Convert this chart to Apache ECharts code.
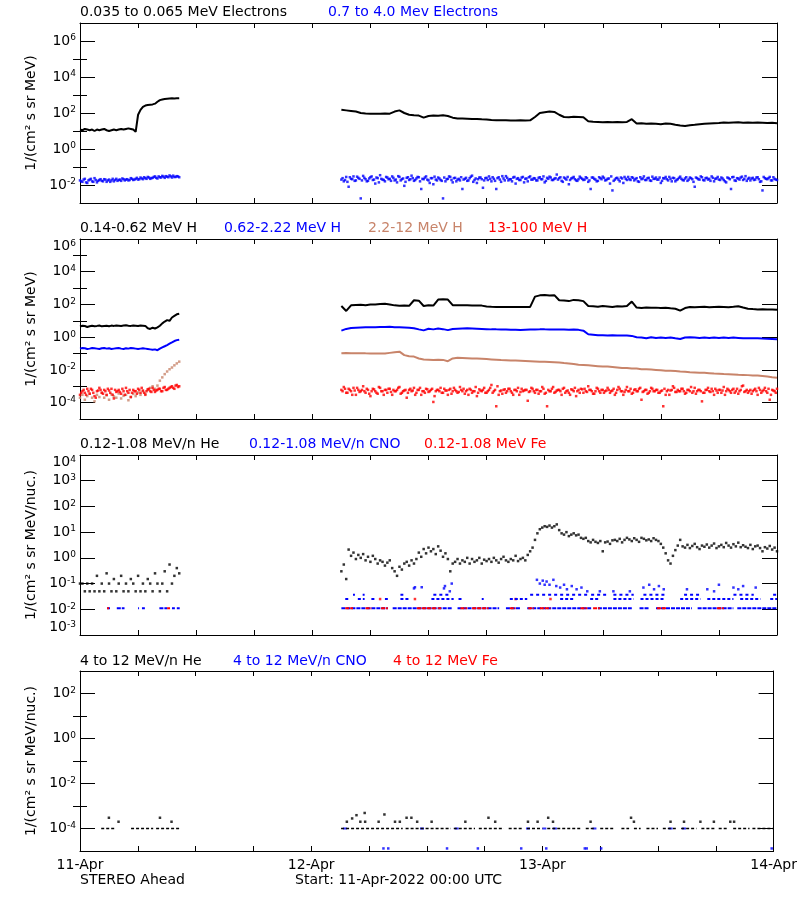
<!DOCTYPE html>
<html><head><meta charset="utf-8">
<script src="https://cdn.jsdelivr.net/npm/echarts@6/dist/echarts.min.js"></script>
<style>html,body{margin:0;padding:0;background:#fff}#c{width:800px;height:900px}</style>
</head><body><div id="c"></div>
<script>
// Hours since 11-Apr-2022 00:00 UTC. Segment 1 sampled every 0.25 h from 0 h;
// segment 2 sampled every 0.25 h (fine) or 0.5 h (coarse) from 27 h.
// "b" arrays are the samples that fall half-way between the fine samples.
const seg1Start = 0, seg2Start = 27, fineStep = 0.25, coarseStep = 0.5, halfStep = 0.125;
const dayLabels = ['11-Apr', '12-Apr', '13-Apr', '14-Apr'];

// ---- Panel 1: electrons
const elecLoSeg1 = [12,11,13,12,11,12,10,12,11,12,13,11,10,11,12,11,12,13,12,13,14,13,12,
  9,80,150,220,260,280,290,300,330,420,520,560,600,620,640,650,640,650,660];
const elecLoSeg2 = [150,140,130,120,100,95,92,90,92,95,
  92,120,140,100,80,75,72,55,68,72,
  70,75,68,55,50,49,48,47,47,45,
  44,41,40,39,40,38,38,39,38,39,
  60,100,110,120,115,80,60,58,62,60,
  58,35,33,32,31,32,31,32,31,32,
  45,26,27,25,26,25,24,26,25,22,
  20,19,21,22,24,25,26,27,28,30,
  29,30,31,29,30,29,30,29,28,29,
  27];
const elecHiSeg1 = [0.018,0.015,0.022,0.013,0.02,0.016,0.024,0.014,0.019,0.017,
  0.021,0.015,0.02,0.018,0.016,0.022,0.019,0.017,0.021,0.02,
  0.018,0.024,0.019,0.022,0.02,0.026,0.021,0.024,0.028,0.022,
  0.025,0.03,0.023,0.027,0.032,0.025,0.029,0.034,0.026,0.028,
  0.031,0.027];
const elecHiSeg1b = [0.016,0.02,0.014,0.018,0.022,0.015,0.019,0.017,0.021,0.016,
  0.02,0.018,0.015,0.022,0.019,0.017,0.02,0.023,0.018,0.021,
  0.019,0.022,0.02,0.025,0.021,0.023,0.027,0.022,0.026,0.024,
  0.028,0.025,0.03,0.026,0.029,0.031,0.027,0.03,0.033,0.028,
  0.03];
const elecHiSeg2 = [0.02,0.016,0.028,0.008,0.022,0.03,0.018,0.025,0.0018,0.032,
  0.021,0.017,0.027,0.019,0.012,0.024,0.035,0.02,0.016,0.026,
  0.022,0.03,0.018,0.014,0.028,0.021,0.009,0.025,0.019,0.033,
  0.017,0.023,0.027,0.006,0.021,0.03,0.018,0.024,0.011,0.02,
  0.026,0.019,0.0018,0.016,0.022,0.028,0.014,0.025,0.02,0.018,
  0.006,0.022,0.017,0.024,0.033,0.019,0.013,0.026,0.021,0.018,
  0.025,0.03,0.016,0.022,0.006,0.027,0.015,0.023,0.031,0.018,
  0.021,0.026,0.012,0.024,0.019,0.028,0.022,0.016,0.03,0.02,
  0.023,0.018,0.027,0.021,0.014,0.025,0.029,0.019,0.022,0.038,
  0.024,0.017,0.026,0.02,0.011,0.023,0.028,0.018,0.021,0.025,
  0.019,0.027,0.015,0.006,0.026,0.02,0.017,0.024,0.029,0.018,
  0.022,0.012,0.005,0.02,0.025,0.016,0.023,0.028,0.019,0.021,
  0.027,0.018,0.024,0.015,0.021,0.03,0.019,0.025,0.017,0.022,
  0.026,0.02,0.013,0.024,0.028,0.018,0.022,0.025,0.016,0.021,
  0.029,0.019,0.023,0.017,0.026,0.021,0.008,0.024,0.02,0.027,
  0.018,0.025,0.022,0.03,0.016,0.023,0.02,0.026,0.019,0.014,
  0.024,0.006,0.028,0.017,0.023,0.026,0.019,0.031,0.022,0.018,
  0.025,0.02,0.027,0.015,0.005,0.024,0.021,0.028,0.018,0.022,
  0.019];
const elecHiSeg2b = [0.024,0.019,0.015,0.027,0.021,0.017,0.029,0.022,0.018,0.025,
  0.016,0.023,0.03,0.02,0.026,0.014,0.022,0.019,0.028,0.021,
  0.017,0.025,0.02,0.031,0.018,0.023,0.015,0.027,0.021,0.024,
  0.019,0.028,0.016,0.022,0.026,0.02,0.013,0.024,0.029,0.018,
  0.023,0.017,0.026,0.021,0.03,0.019,0.024,0.016,0.022,0.027,
  0.02,0.025,0.018,0.029,0.015,0.023,0.021,0.026,0.007,0.024,
  0.019,0.022,0.027,0.017,0.024,0.02,0.031,0.018,0.025,0.021,
  0.016,0.028,0.022,0.019,0.026,0.014,0.023,0.027,0.02,0.024,
  0.018,0.025,0.021,0.03,0.017,0.022,0.026,0.019,0.024,0.02,
  0.027,0.015,0.023,0.028,0.019,0.025,0.021,0.017,0.029,0.022,
  0.02,0.024,0.018,0.026,0.022,0.016,0.027,0.021,0.025,0.019,
  0.023,0.03,0.017,0.024,0.02,0.026,0.013,0.022,0.028,0.019,
  0.025,0.021,0.016,0.027,0.023,0.019,0.024,0.018,0.029,0.022,
  0.02,0.026,0.017,0.023,0.021,0.028,0.016,0.024,0.019,0.025,
  0.022,0.018,0.027,0.02,0.024,0.015,0.026,0.021,0.03,0.019,
  0.024,0.02,0.017,0.025,0.022,0.028,0.019,0.023,0.016,0.026,
  0.021,0.027,0.018,0.024,0.02,0.029,0.022,0.017,0.025,0.023,
  0.019,0.026,0.021,0.016,0.028,0.022,0.024,0.018,0.027,0.02];

// ---- Panel 2: protons
const hLoSeg1 = [4.5,5,4.8,4.2,4.6,5,4.7,4.9,5.2,4.6,4.8,5,4.7,5.1,4.9,5.2,5,4.8,5.1,5.3,5,4.9,5.2,5,4.8,5.1,5,4.9,
  3.5,3.2,3.8,3.4,4,5,7,9,11,10,16,20,25,27];
const hLoSeg2 = [80,40,88,92,95,90,98,100,105,110,
  100,88,82,85,82,180,170,80,90,85,
  200,210,200,90,90,88,88,87,86,85,
  75,72,71,70,70,70,71,70,70,71,
  300,360,380,350,370,180,175,160,190,180,
  160,80,78,72,80,75,70,78,75,80,
  150,65,60,66,62,64,60,63,58,55,
  42,60,70,68,70,72,68,70,72,70,
  68,72,78,65,55,52,50,51,49,50,
  48];
const hMidSeg1 = [0.2,0.22,0.21,0.19,0.2,0.22,0.21,0.2,0.19,0.21,0.22,0.2,0.21,0.19,0.2,0.21,0.22,0.2,0.19,0.21,
  0.2,0.22,0.21,0.2,0.19,0.2,0.21,0.2,0.19,0.18,0.17,0.18,
  0.16,0.2,0.24,0.28,0.33,0.4,0.48,0.58,0.66,0.7];
const hMidSeg2 = [2.5,3.2,3.6,3.8,3.9,4.0,4.0,4.1,4.2,4.2,
  4.3,4.1,4.0,3.9,3.8,3.5,3.0,2.6,3.3,3.0,
  3.4,3.1,2.7,3.2,3.3,3.4,3.5,3.4,3.3,3.2,
  3.1,3.0,3.0,2.9,2.9,2.8,2.8,2.7,2.8,2.9,
  2.9,3.0,3.0,2.9,2.9,2.9,2.9,2.8,2.9,2.8,
  2.5,1.5,1.4,1.3,1.3,1.25,1.3,1.25,1.25,1.25,
  1.2,1.0,0.95,0.85,1.0,0.9,0.95,0.9,0.95,0.85,
  0.78,0.95,1.0,0.95,0.9,0.95,0.9,0.95,0.9,0.95,
  0.9,0.95,0.9,0.85,0.85,0.85,0.85,0.82,0.8,0.78,
  0.75];
const hHiSeg1 = [2e-4,3e-4,1.5e-4,2.5e-4,3.5e-4,2e-4,1.2e-4,3e-4,2.2e-4,4e-4,2e-4,2.8e-4,1.5e-4,3.2e-4,2.4e-4,2e-4,
  3.6e-4,1.8e-4,2.6e-4,3e-4,1.4e-4,2.2e-4,3.4e-4,2.5e-4,4.2e-4,3e-4,5e-4,3.5e-4,6e-4,8e-4,1e-3,7e-4,1.1e-3,
  2.2e-3,3.5e-3,5.5e-3,8e-3,0.011,0.014,0.019,0.025,0.032];
const hHiSeg2 = [0.105,0.108,0.106,0.104,0.105,0.103,0.102,0.1,0.1,0.1,
  0.11,0.12,0.13,0.08,0.068,0.065,0.05,0.043,0.042,0.041,
  0.042,0.041,0.034,0.05,0.055,0.054,0.052,0.05,0.05,0.048,
  0.046,0.044,0.042,0.04,0.039,0.038,0.037,0.036,0.035,0.034,
  0.033,0.032,0.031,0.03,0.029,0.028,0.026,0.025,0.023,0.021,
  0.02,0.019,0.018,0.017,0.016,0.016,0.015,0.014,0.013,0.013,
  0.012,0.012,0.011,0.011,0.0105,0.01,0.0095,0.009,0.0088,0.0085,
  0.008,0.0076,0.0072,0.007,0.0068,0.0066,0.0063,0.006,0.0058,0.0056,
  0.0055,0.0053,0.005,0.0049,0.0048,0.0046,0.0045,0.0043,0.004,0.0036,
  0.0033];
const hVhiSeg1 = [3e-4,5e-4,4e-4,7e-4,3.5e-4,6e-4,2.5e-4,5e-4,8e-4,4e-4,
  6e-4,3e-4,5.5e-4,7e-4,1.8e-4,4.5e-4,6e-4,3.5e-4,5e-4,8e-4,
  4e-4,2.2e-4,6e-4,5e-4,7e-4,4e-4,5.5e-4,3e-4,6.5e-4,5e-4,
  8e-4,4.5e-4,6e-4,7e-4,5e-4,9e-4,6e-4,8e-4,1e-3,7e-4,
  1.2e-3,1e-3];
const hVhiSeg1b = [4e-4,6e-4,3e-4,5e-4,7e-4,4e-4,2e-4,5.5e-4,6e-4,3.5e-4,
  5e-4,7e-4,4e-4,3e-4,6e-4,5e-4,4.5e-4,7e-4,3e-4,5e-4,
  6e-4,4e-4,5e-4,3.5e-4,6e-4,8e-4,4e-4,5e-4,7e-4,4.5e-4,
  6e-4,5.5e-4,7e-4,5e-4,8e-4,6e-4,7e-4,9e-4,8e-4,1.1e-3,
  9e-4];
const hVhiSeg2 = [6e-4,9e-4,4e-4,7e-4,5e-4,8e-4,3e-4,6e-4,5e-4,1e-3,
  4e-4,6e-4,2.5e-4,7e-4,5e-4,3.5e-4,8e-4,5e-4,6e-4,4e-4,
  7e-4,3e-4,5e-4,6e-4,9e-4,4e-4,5.5e-4,2e-4,6e-4,5e-4,
  8e-4,4e-4,6e-4,3e-4,5e-4,7e-4,4.5e-4,6e-4,1.1e-4,5e-4,
  6e-4,8e-4,4e-4,5.5e-4,3e-4,7e-4,5e-4,6e-4,4e-4,9e-4,
  5e-4,3.5e-4,6e-4,7e-4,4e-4,5e-4,2.5e-4,6.5e-4,5e-4,8e-4,
  4e-4,6e-4,1.2e-3,5e-4,6e-5,3e-4,5.5e-4,6e-4,4e-4,7e-4,
  5e-4,3e-4,6e-4,8e-4,4.5e-4,5e-4,6e-4,1.3e-4,5e-4,7e-4,
  4e-4,6e-4,5e-4,9e-4,3.5e-4,6e-5,5e-4,7e-4,4e-4,5.5e-4,
  6e-4,3e-4,8e-4,5e-4,4e-4,6.5e-4,5e-4,2.5e-4,6e-4,7e-4,
  4e-4,5e-4,1e-3,6e-4,3.5e-4,5e-4,7e-4,4e-4,6e-4,5e-4,
  8e-4,4e-4,5.5e-4,3e-4,6e-4,7e-4,5e-4,4.5e-4,9e-4,5e-4,
  3.5e-4,6e-4,5e-4,7e-4,1.5e-4,5e-4,6e-4,4e-4,8e-4,5e-4,
  6e-4,4e-4,5e-4,6e-5,3e-4,6e-4,5.5e-4,1e-3,4.5e-4,6e-4,
  5e-4,7e-4,3.5e-4,6e-4,5e-4,4e-4,8e-4,5e-4,6e-4,1.2e-4,
  4e-4,6e-4,5e-4,7e-4,3e-4,5.5e-4,6e-4,4e-4,9e-4,5e-4,
  6e-4,4e-4,7e-4,5e-4,3.5e-4,6e-4,1.1e-3,5e-4,4e-4,6e-4,
  5e-4,7e-4,3e-4,6e-4,5e-4,8e-4,4e-4,1.5e-4,6e-4,5e-4,
  7e-4];
const hVhiSeg2b = [5e-4,7e-4,4e-4,6e-4,3e-4,5.5e-4,8e-4,4.5e-4,6e-4,5e-4,
  7e-4,3.5e-4,5e-4,6.5e-4,4e-4,9e-4,5e-4,3e-4,6e-4,7e-4,
  4.5e-4,6e-4,5e-4,8e-4,3.5e-4,5e-4,6e-4,4e-4,7e-4,5.5e-4,
  3e-4,6e-4,8e-4,5e-4,4e-4,6.5e-4,5e-4,7e-4,2.5e-4,6e-4,
  5e-4,4e-4,7e-4,5.5e-4,6e-4,3.5e-4,8e-4,5e-4,4.5e-4,6e-4,
  7e-4,5e-4,3e-4,6e-4,5e-4,9e-4,4e-4,5.5e-4,6e-4,4e-4,
  5e-4,8e-4,4e-4,6e-4,1e-3,5e-4,3.5e-4,6.5e-4,5e-4,7e-4,
  4e-4,6e-4,5e-4,3e-4,7e-4,5.5e-4,6e-4,4.5e-4,8e-4,5e-4,
  6e-4,3.5e-4,5e-4,7e-4,4e-4,6e-4,5e-4,9e-4,4.5e-4,6e-4,
  5e-4,7e-4,4e-4,5.5e-4,3e-4,6e-4,8e-4,5e-4,4e-4,6.5e-4,
  7e-4,4.5e-4,6e-4,5e-4,3.5e-4,8e-4,5e-4,6e-4,4e-4,5.5e-4,
  6e-4,5e-4,7e-4,4e-4,9e-4,5e-4,3e-4,6e-4,5e-4,7e-4,
  4e-4,6.5e-4,5e-4,8e-4,4.5e-4,6e-4,3.5e-4,5e-4,7e-4,5e-4,
  6e-4,4e-4,5.5e-4,7e-4,5e-4,3e-4,6e-4,8e-4,4.5e-4,5e-4,
  7e-4,5e-4,4e-4,6e-4,9e-4,5e-4,3.5e-4,6e-4,5e-4,4e-4,
  6e-4,8e-4,4.5e-4,5e-4,7e-4,4e-4,6e-4,5.5e-4,3e-4,7e-4,
  5e-4,6e-4,4e-4,7e-4,5e-4,1e-3,4.5e-4,6e-4,5e-4,3.5e-4,
  6e-4,5e-4,8e-4,4e-4,6e-4,5e-4,7e-4,3e-4,5.5e-4,4e-4];

// ---- Panel 3: 0.12-1.08 MeV/n ions
const heLoSeg1 = [0.1,0.1,0.05,0.1,0.05,0.1,0.05,0.2,0.05,0.1,0.05,0.25,0.1,0.05,0.15,0.05,0.1,0.2,0.05,0.1,
  0.05,0.15,0.1,0.05,0.2,0.05,0.1,0.05,0.15,0.1,0.05,0.25,0.1,0.05,0.1,0.3,0.05,0.55,0.1,0.2,0.4,0.25];
const heLoSeg2 = [0.3,0.55,0.15,2.1,1.2,1.6,0.9,1.3,1.0,1.4,
  0.8,1.1,0.7,1.2,0.9,0.6,0.8,0.7,0.5,0.65,
  0.8,0.4,0.3,0.2,0.45,0.35,0.6,0.7,0.5,0.8,
  0.6,0.9,1.6,1.1,2.2,1.5,2.5,1.8,2.2,1.4,
  2.8,1.9,1.1,1.5,0.9,0.3,0.6,0.7,0.9,0.6,
  0.8,0.7,1.0,0.6,0.9,0.7,0.8,1.0,0.6,0.85,
  0.75,0.9,0.7,1.0,0.8,0.65,0.9,1.1,0.8,0.7,
  0.9,0.8,1.2,0.75,0.9,1.0,0.8,1.3,1.8,2.5,
  5,9,13,15,17,16,18,15,17,20,
  12,9,8,10,7,8,9,7.5,8,6,
  5.5,6,4.5,4,5,4.2,3.8,4.5,1.8,4,
  4.3,3.5,4.8,5,4.5,5.5,4,5,6,5.2,
  4.5,5.8,5,4.2,6,5.5,4.8,5.2,4.5,5.8,
  5,4.5,3.5,2.5,1.5,0.8,0.6,1.2,2,3,
  5,2.8,2.5,3.2,2.4,2.9,3.5,2.6,2.2,3,
  2.7,3.3,2.5,3,3.6,2.4,2.8,3.2,2.6,3.8,
  3,2.5,3.4,2.8,3.9,2.6,3.1,2.7,2.4,3.2,
  2.2,2.8,3,2.4,1.8,2.6,2.3,2.9,2.1,2.5,
  1.8];
// count-quantised CNO / Fe levels and the hour ranges [start, end] where they occur
const cnoLevels = [0.011, 0.025, 0.037];
const cnoLowRuns = [[2.8,3.1],[3.8,4.6],[6.0,6.1],[6.4,6.7],[8.2,9.0],[9.5,9.8],[10.0,10.3],
  [27.0,31.8],[32.3,38.5],[39.0,43.3],[44.0,45.5],[46.2,52.8],[53.5,57.0],[57.8,58.8],[59.5,63.2],[63.8,67.5],[67.9,72.0]];
const cnoMidRuns = [[27.4,27.9],[28.7,29.4],[30.1,30.5],[31.5,31.8],[33.1,34.1],[36.3,38.6],[39.1,39.6],[41.5,41.7],
  [44.4,46.2],[49.6,51.0],[52.7,53.7],[55.1,57.2],[57.9,60.3],[62.0,64.1],[64.8,67.5],[68.2,70.3],[71.3,72.0]];
const cnoHighRuns = [[28.2,28.4],[29.2,29.4],[33.1,33.4],[36.5,38.2],[46.5,52.4],[52.8,54.4],[55.1,57.2],[58.2,60.6],
  [62.4,64.1],[67.5,69.6],[71.6,72.0]];
const cnoPoints = [[34.5,0.065],[34.6,0.072],[35.3,0.072],[37.6,0.065],[37.7,0.08],[38.2,0.05],[38.4,0.1],
  [47.2,0.14],[47.5,0.1],[47.8,0.13],[48.0,0.09],[48.2,0.12],[48.5,0.09],[48.9,0.14],[49.2,0.08],[49.6,0.07],
  [50.0,0.09],[50.3,0.06],[50.8,0.08],[51.3,0.06],[51.8,0.07],[52.4,0.05],[53.7,0.05],[55.1,0.05],[56.8,0.05],
  [58.2,0.07],[58.8,0.09],[59.3,0.06],[59.8,0.08],[60.3,0.06],[62.7,0.06],[64.8,0.06],[65.5,0.05],[66.0,0.09],
  [67.5,0.07],[68.0,0.06],[68.5,0.08],[69.8,0.07]];
const feLowRuns = [[2.8,3.0],[9.0,9.3],[27.4,28.2],[29.5,30.1],[31.1,31.8],[34.8,36.9],[37.0,37.3],[39.3,40.0],
  [40.5,42.2],[44.4,45.0],[46.3,46.9],[47.5,48.6],[51.7,52.4],[53.0,53.7],[59.6,60.6],[65.8,66.5]];
const feMidHours = [31.0, 34.6, 45.0, 48.6];

// ---- Panel 4: 4-12 MeV/n ions
const he4Level = 1e-4;
const he4Runs = [[2.2,3.6],[5.3,7.6],[7.9,10.3],[27.1,33.5],[33.8,38.5],[38.8,41.0],[41.4,44.0],[44.5,46.0],[46.4,48.0],
  [48.5,52.0],[52.5,53.5],[54.0,55.5],[56.2,57.0],[57.5,58.2],[58.8,60.0],[60.5,62.0],[62.4,64.0],[64.5,66.0],
  [66.3,67.2],[67.8,69.5],[69.8,72.0]];
const he4Points = [[3.0,3e-4],[4.0,2e-4],[8.3,3e-4],[9.5,2e-4],[27.7,2e-4],[28.25,2.8e-4],[28.7,3.9e-4],[29.1,2e-4],
  [29.55,4.9e-4],[29.6,2e-4],[31.0,2e-4],[31.6,4.2e-4],[32.7,2e-4],[33.2,2e-4],[33.9,3e-4],[34.4,3e-4],[35.0,2e-4],
  [36.5,2e-4],[40.0,2e-4],[42.4,3e-4],[43.1,2e-4],[46.5,2e-4],[47.5,2e-4],[48.6,3e-4],[49.1,2e-4],[53.0,2e-4],
  [57.2,3e-4],[57.5,2e-4],[61.3,2e-4],[62.7,2e-4],[64.4,2e-4],[65.8,2e-4],[67.5,2e-4],[67.9,2e-4]];
const cno4RowHours = [27.5,35.5,39.1,46.5,48.2,49.3,53.4,61.3,62.7];
const cno4LowLevel = 1.3e-5;
const cno4LowHours = [31.5,32.0,38.1,41.3,45.8,48.4,52.4,52.6,54.1,71.8];

// ---- text
const titles = [
  ['0.035 to 0.065 MeV Electrons', 80, 13, '#000'], ['0.7 to 4.0 Mev Electrons', 328, 13, '#0000ff'],
  ['0.14-0.62 MeV H', 80, 229, '#000'], ['0.62-2.22 MeV H', 224, 229, '#0000ff'], ['2.2-12 MeV H', 368, 229, '#c8846a'], ['13-100 MeV H', 488, 229, '#ff0000'],
  ['0.12-1.08 MeV/n He', 80, 445, '#000'], ['0.12-1.08 MeV/n CNO', 249, 445, '#0000ff'], ['0.12-1.08 MeV Fe', 424, 445, '#ff0000'],
  ['4 to 12 MeV/n He', 80, 662, '#000'], ['4 to 12 MeV/n CNO', 233, 662, '#0000ff'], ['4 to 12 MeV Fe', 393, 662, '#ff0000'],
  ['STEREO Ahead', 80, 881, '#000'], ['Start: 11-Apr-2022 00:00 UTC', 295, 881, '#000']
];
const unitE = '1/(cm² s sr MeV)';
const unitN = '1/(cm² s sr MeV/nuc.)';

// ================= build =================
const F = 'DejaVu Sans';
const FS = 14;
const BLACK = '#000', BLUE = '#0000ff', BROWN = '#c8846a', RED = '#ff0000';
const L = v => Math.log10(v);
const pts = (start, step, arr) => arr.map((v, i) => [start + i * step, L(v)]);
const runs = (list, level) => { const o = []; list.forEach(([a, b]) => { o.push([a, L(level)], [b, L(level)], [b, null]); }); return o; };
const pairs = list => list.map(([h, v]) => [h, L(v)]);
const atLevel = (hours, level) => hours.map(h => [h, L(level)]);

const panels = [
  {top: 23, min: -3, max: 7, major: [-2,0,2,4,6], minor: [-1,1,3,5], name: unitE, vMin: 'middle', vMax: 'middle'},
  {top: 239, min: -5, max: 6, major: [-4,-2,0,2,4,6], minor: [-3,-1,1,3,5], name: unitE, vMin: 'middle', vMax: 'top'},
  {top: 455, min: -3, max: 4, major: [-3,-2,-1,0,1,2,3,4], minor: [], name: unitN, vMin: 'bottom', vMax: 'top'},
  {top: 671, min: -5, max: 3, major: [-4,-2,0,2], minor: [-3,-1,1], name: unitN, vMin: 'middle', vMax: 'middle'}
];
const grid = [], xAxis = [], yAxis = [], mainY = [];
const tickStyle = {color: '#000', width: 1};
panels.forEach((p, g) => {
  grid.push({left: 80, width: 697, top: p.top, height: 180, show: false});
  const xb = {gridIndex: g, type: 'value', min: 0, max: 72, interval: 6, splitLine: {show: false},
    axisLine: {show: true, onZero: false, lineStyle: tickStyle},
    axisTick: {show: true, inside: true, length: 5, lineStyle: tickStyle}};
  xAxis.push(Object.assign({}, xb, {position: 'bottom',
    axisLabel: {show: g === 3, margin: 7, color: '#000', fontFamily: F, fontSize: FS,
      formatter: v => (v % 24 === 0 ? dayLabels[v / 24] : '')}}));
  xAxis.push(Object.assign({}, xb, {position: 'top', axisLabel: {show: false}}));
  const yb = {gridIndex: g, type: 'value', min: p.min, max: p.max, splitLine: {show: false}};
  mainY.push(yAxis.length);
  yAxis.push(Object.assign({}, yb, {position: 'left',
    axisLine: {show: true, onZero: false, lineStyle: tickStyle},
    axisTick: {show: true, inside: true, length: 15, customValues: p.major, lineStyle: tickStyle},
    axisLabel: {show: true, customValues: p.major, margin: 4, showMinLabel: true, showMaxLabel: true,
      verticalAlignMinLabel: p.vMin, verticalAlignMaxLabel: p.vMax,
      formatter: v => '{b|10}{s|' + v + '}',
      rich: {b: {fontFamily: F, fontSize: FS, color: '#000', lineHeight: 15},
             s: {fontFamily: F, fontSize: 9, color: '#000', lineHeight: 9, verticalAlign: 'top'}}},
    name: p.name, nameLocation: 'middle', nameGap: 38,
    nameTextStyle: {fontFamily: F, fontSize: FS, color: '#000'}}));
  yAxis.push(Object.assign({}, yb, {position: 'right',
    axisLine: {show: true, onZero: false, lineStyle: tickStyle},
    axisTick: {show: true, inside: true, length: 15, customValues: p.major, lineStyle: tickStyle},
    axisLabel: {show: false}}));
  if (p.minor.length) {
    ['left', 'right'].forEach(pos => yAxis.push(Object.assign({}, yb, {position: pos,
      axisLine: {show: false},
      axisTick: {show: true, inside: true, length: 7, customValues: p.minor, lineStyle: tickStyle},
      axisLabel: {show: false}})));
  }
});

const series = [];
function line(g, data, color, width, type) {
  series.push({type: 'line', xAxisIndex: 2 * g, yAxisIndex: mainY[g], data, symbol: 'none', showSymbol: false,
    connectNulls: false, silent: true, lineStyle: {color, width, type: type || 'solid'}});
}
function scat(g, data, color, size) {
  series.push({type: 'scatter', xAxisIndex: 2 * g, yAxisIndex: mainY[g], data, symbol: 'rect',
    symbolSize: size || 2.5, silent: true, itemStyle: {color}});
}
// panel 1
line(0, pts(seg1Start, fineStep, elecLoSeg1), BLACK, 2);
line(0, pts(seg2Start, coarseStep, elecLoSeg2), BLACK, 2);
scat(0, pts(seg1Start, fineStep, elecHiSeg1), BLUE);
scat(0, pts(seg1Start + halfStep, fineStep, elecHiSeg1b), BLUE);
scat(0, pts(seg2Start, fineStep, elecHiSeg2), BLUE);
scat(0, pts(seg2Start + halfStep, fineStep, elecHiSeg2b), BLUE);
// panel 2
line(1, pts(seg1Start, fineStep, hLoSeg1), BLACK, 2);
line(1, pts(seg2Start, coarseStep, hLoSeg2), BLACK, 2);
line(1, pts(seg1Start, fineStep, hMidSeg1), BLUE, 2);
line(1, pts(seg2Start, coarseStep, hMidSeg2), BLUE, 2);
scat(1, pts(seg1Start, fineStep, hHiSeg1), BROWN);
line(1, pts(seg2Start, coarseStep, hHiSeg2), BROWN, 2);
scat(1, pts(seg1Start, fineStep, hVhiSeg1), RED);
scat(1, pts(seg1Start + halfStep, fineStep, hVhiSeg1b), RED);
scat(1, pts(seg2Start, fineStep, hVhiSeg2), RED);
scat(1, pts(seg2Start + halfStep, fineStep, hVhiSeg2b), RED);
// panel 3
scat(2, pts(seg1Start, fineStep, heLoSeg1), BLACK);
scat(2, pts(seg2Start, fineStep, heLoSeg2), BLACK);
line(2, runs(cnoLowRuns, cnoLevels[0]), BLUE, 2, [4, 1]);
line(2, runs(cnoMidRuns, cnoLevels[1]), BLUE, 2, [3, 2]);
line(2, runs(cnoHighRuns, cnoLevels[2]), BLUE, 2, [3, 3]);
scat(2, pairs(cnoPoints), BLUE);
line(2, runs(feLowRuns, cnoLevels[0]), RED, 2, [4, 1]);
scat(2, atLevel(feMidHours, cnoLevels[1]), RED);
// panel 4
line(3, runs(he4Runs, he4Level), BLACK, 1.5, [3, 2]);
scat(3, pairs(he4Points), BLACK);
scat(3, atLevel(cno4RowHours, he4Level), BLUE, [4, 2]);
scat(3, atLevel(cno4LowHours, cno4LowLevel), BLUE);

const graphic = titles.map(([t, x, y, c]) => ({type: 'text', left: x, top: y - 8, silent: true,
  style: {text: t, fill: c, font: FS + 'px "DejaVu Sans"'}}));

const chart = echarts.init(document.getElementById('c'), null, {renderer: 'canvas'});
chart.setOption({animation: false, backgroundColor: '#fff', grid, xAxis, yAxis, series, graphic});
</script></body></html>
